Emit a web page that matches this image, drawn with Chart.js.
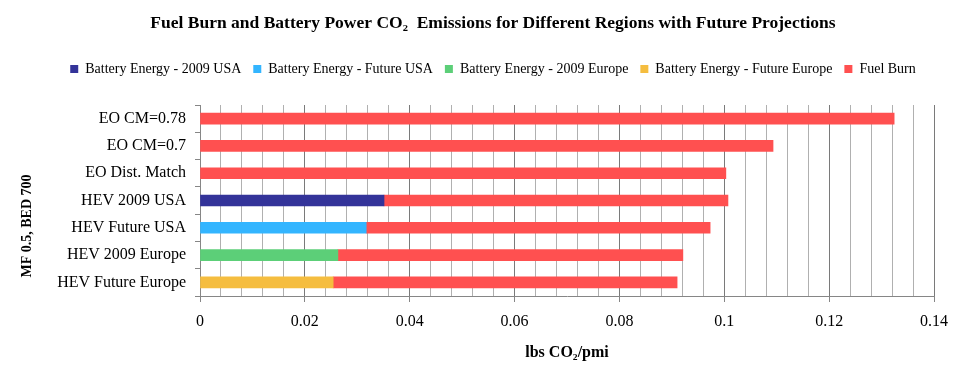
<!DOCTYPE html>
<html>
<head>
<meta charset="utf-8">
<script src="https://cdn.jsdelivr.net/npm/chart.js@4.4.1/dist/chart.umd.min.js"></script>
<style>
  html, body { margin: 0; padding: 0; background: #fff; }
  #wrap { width: 976px; height: 388px; }
</style>
</head>
<body>
<div id="wrap"><canvas id="chart" width="976" height="388"></canvas></div>
<script>
const categories = ['EO CM=0.78', 'EO CM=0.7', 'EO Dist. Match', 'HEV 2009 USA', 'HEV Future USA', 'HEV 2009 Europe', 'HEV Future Europe']

const battery2009USA = [null, null, null, 0.0351, null, null, null]
const batteryFutureUSA = [null, null, null, null, 0.0317, null, null]
const battery2009Europe = [null, null, null, null, null, 0.0263, null]
const batteryFutureEurope = [null, null, null, null, null, null, 0.0254]
const fuelBurn = [0.1324, 0.1093, 0.1003, 0.0656, 0.0656, 0.0658, 0.0656]

const xTicks = [0, 0.02, 0.04, 0.06, 0.08, 0.1, 0.12, 0.14]

const yTitle = 'MF 0.5, BED 700'

const serif = '"Liberation Serif", "Times New Roman", serif'

const isMajor = v => xTicks.some(t => Math.abs(t - v) < 1e-6)

const makeSet = (label, data, colour) => ({
    label: label,
    data: data,
    backgroundColor: colour,
    borderWidth: 0,
    barThickness: 11,
    stack: 's'
})

// legend sits higher than chart.js wants, add room under it
const legendSpace = {
    id: 'legendSpace',
    beforeInit(chart) {
        const fit = chart.legend.fit
        chart.legend.fit = function () {
            fit.bind(chart.legend)()
            this.height += 19
        }
    }
}

// y title drawn by hand so it can sit where the original has it
const sideTitle = {
    id: 'sideTitle',
    afterDraw(chart) {
        const c = chart.ctx
        c.save()
        c.translate(27, 226)
        c.rotate(-Math.PI / 2)
        c.font = 'bold 14px ' + serif
        c.fillStyle = '#000'
        c.textAlign = 'center'
        c.textBaseline = 'middle'
        c.fillText(yTitle, 0, 0)
        c.restore()
    }
}

const ctx = document.getElementById('chart')

const chart = new Chart(ctx, {
    type: 'bar',
    data: {
        labels: categories,
        datasets: [
            makeSet('Battery Energy - 2009 USA', battery2009USA, '#333399'),
            makeSet('Battery Energy - Future USA', batteryFutureUSA, '#33B5FF'),
            makeSet('Battery Energy - 2009 Europe', battery2009Europe, '#5CCF78'),
            makeSet('Battery Energy - Future Europe', batteryFutureEurope, '#F5BD3F'),
            makeSet('Fuel Burn', fuelBurn, '#FF5050')
        ]
    },
    plugins: [legendSpace, sideTitle],
    options: {
        indexAxis: 'y',
        responsive: false,
        animation: false,
        layout: { padding: { left: 52, right: 42, top: 6, bottom: 22 } },
        plugins: {
            title: {
                display: true,
                text: 'Fuel Burn and Battery Power CO\u2082  Emissions for Different Regions with Future Projections',
                color: '#000',
                font: { family: serif, size: 17.5, weight: 'bold' },
                padding: { top: 7, bottom: 16 }
            },
            legend: {
                position: 'top',
                labels: {
                    color: '#000',
                    font: { family: serif, size: 14 },
                    boxWidth: 8,
                    boxHeight: 8,
                    padding: 12
                }
            },
            tooltip: { enabled: false }
        },
        scales: {
            x: {
                stacked: true,
                min: 0,
                max: 0.14,
                afterFit: s => { s.height = 70 },
                ticks: {
                    stepSize: 0.004,
                    autoSkip: false,
                    maxRotation: 0,
                    color: '#000',
                    font: { family: serif, size: 16 },
                    padding: 10,
                    callback: v => isMajor(v) ? String(Number(v.toFixed(2))) : ''
                },
                grid: {
                    color: c => isMajor(c.tick.value) ? '#7a7a7a' : '#b0b0b0',
                    lineWidth: 1,
                    tickLength: 6,
                    tickColor: c => isMajor(c.tick.value) ? '#868686' : 'rgba(0,0,0,0)'
                },
                border: { color: '#868686', width: 1 },
                title: {
                    display: true,
                    text: 'lbs CO\u2082/pmi',
                    color: '#000',
                    font: { family: serif, size: 16, weight: 'bold' },
                    padding: { top: 4, bottom: 4 }
                }
            },
            y: {
                stacked: true,
                afterFit: s => { s.width = 148 },
                ticks: {
                    color: '#000',
                    font: { family: serif, size: 16 },
                    padding: 9
                },
                grid: {
                    offset: true,
                    drawOnChartArea: false,
                    tickLength: 5,
                    tickColor: '#868686'
                },
                border: { color: '#868686', width: 1 }
            }
        }
    }
})
</script>
</body>
</html>
